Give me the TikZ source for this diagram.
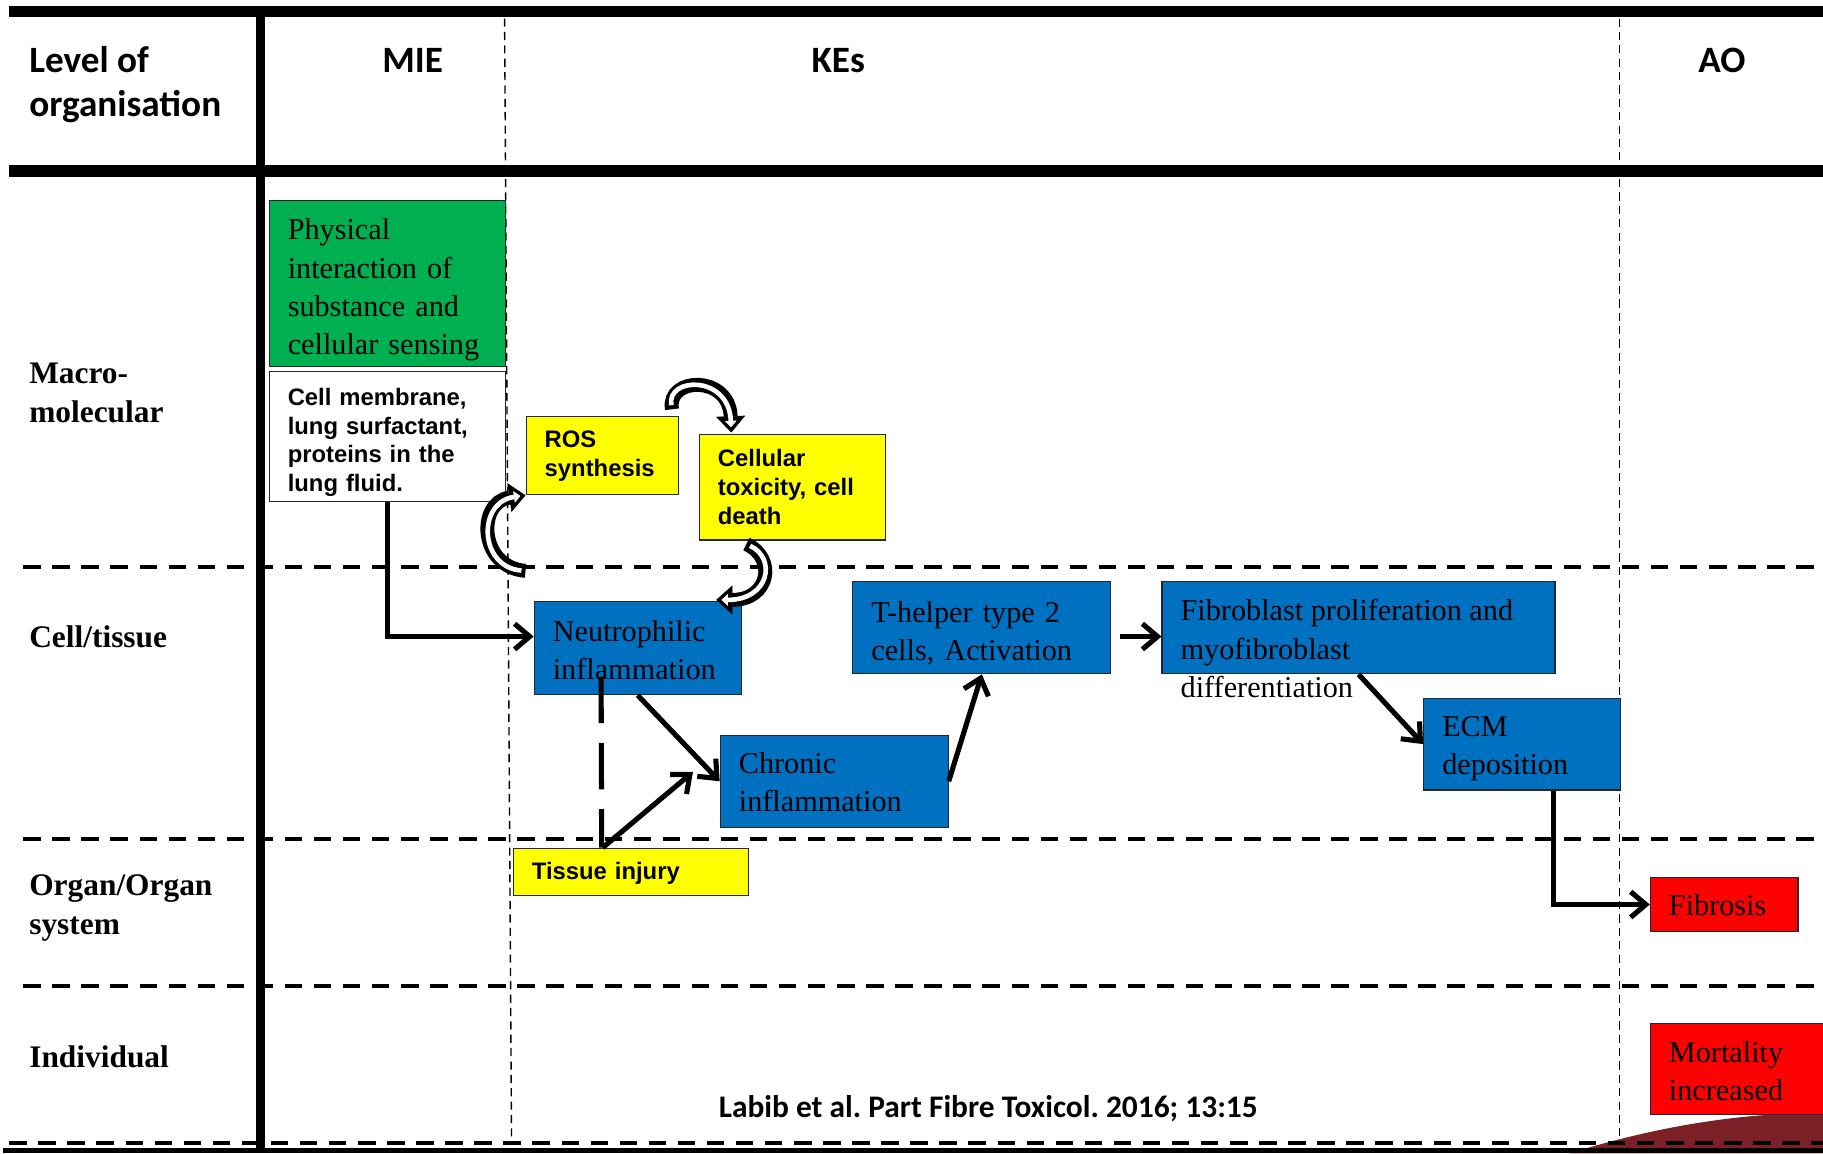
\documentclass[tikz,border=0pt]{standalone}
\usepackage{fontspec}
\setmainfont{Liberation Serif}
\newfontfamily\calib{Carlito}
\newfontfamily\arl{Liberation Sans}
\usetikzlibrary{arrows.meta,calc}
\definecolor{kgreen}{RGB}{0,176,80}
\definecolor{kblue}{RGB}{0,112,192}
\definecolor{kyellow}{RGB}{255,255,0}
\definecolor{kred}{RGB}{255,0,0}
\definecolor{dred}{RGB}{122,32,38}
\newcommand\kup[1]{\rule{0pt}{#1}}
\frenchspacing
\begin{document}
\begin{tikzpicture}[x=1pt,y=-1pt,
  box/.style={draw=black!85, line width=1pt, rectangle, inner xsep=16pt, inner ysep=0pt, align=left, anchor=north west},
  serifbox/.style={box, font=\frenchspacing\fontsize{26}{33}\selectfont},
  sansbox/.style={box, font=\arl\bfseries\fontsize{20.5}{24.8}\selectfont},
  headtxt/.style={font=\calib\bfseries\fontsize{32}{38}\selectfont, inner sep=0pt},
  rowlab/.style={font=\bfseries\fontsize{27}{33.5}\selectfont, align=left, inner sep=0pt, anchor=base west},
  gridline/.style={line width=3.5pt, dash pattern=on 15pt off 10pt},
  thind/.style={line width=1.2pt, dash pattern=on 7pt off 4.5pt},
  conn/.style={line width=4.4pt, -{Straight Barb[length=13pt,width=22pt]}},
  hollowout/.style={line width=12pt, -{Triangle[length=14pt,width=25pt,line width'=0.5pt]}},
  hollowin/.style={line width=4pt, white, shorten >=4.5pt, shorten <=3.5pt, -{Triangle[length=5.5pt,width=10pt,line width'=0.5pt]}}
]
\clip (0,0) rectangle (1568,992);
\fill[white] (0,0) rectangle (1568,992);

% dark red wedge bottom right
\fill[dred] (1350,992) .. controls (1415,972) and (1475,961) .. (1535,958) -- (1568,958) -- (1568,992) -- cycle;

% grid
\draw[line width=10pt] (8,10) -- (1568,10);
\draw[line width=10pt] (8,147) -- (1568,147);
\draw[line width=8pt] (224,5) -- (224,992);
\draw[gridline] (20,488) -- (1568,488);
\draw[gridline] (20,722) -- (1568,722);
\draw[gridline] (20,848) -- (1568,848);
\draw[gridline] (8,983) -- (1568,983);
\fill (3,987) rectangle (1568,992);
\draw[thind] (434,16) -- (440,985);
\draw[thind] (1393,16) -- (1393,985);

% headers
\node[headtxt, anchor=base west, align=left] (lvl) at (25,100) {Level of\\organisation};
\node[headtxt, anchor=base] (mie) at (355,62) {MIE};
\node[headtxt, anchor=base] (kes) at (721,62) {KEs};
\node[headtxt, anchor=base] (ao) at (1481,62) {AO};

% row labels
\node[rowlab] (macro) at (25,363.5) {Macro-\\molecular};
\node[rowlab] (celltis) at (25,557) {Cell/tissue};
\node[rowlab] (organ) at (25,804) {Organ/Organ\\system};
\node[rowlab] (indiv) at (25,918) {Individual};

% boxes
\node[serifbox, fill=kgreen, minimum width=203pt, minimum height=143pt, text width=171pt] (phys) at (231,172)
  {\kup{29pt}Physical\\interaction of\\substance and\\cellular sensing};
\node[sansbox, fill=white, minimum width=203pt, minimum height=112pt, text width=171pt] (cellmem) at (231,319)
  {\kup{25pt}Cell membrane,\\lung surfactant,\\proteins in the\\lung fluid.};
\node[sansbox, fill=kyellow, minimum width=131pt, minimum height=67pt, text width=99pt] (ros) at (452,358)
  {ROS\\synthesis};
\node[sansbox, fill=kyellow, minimum width=160pt, minimum height=91pt, text width=128pt] (cell) at (601,373)
  {Cellular\\toxicity, cell\\death};
\node[serifbox, fill=kblue, minimum width=178pt, minimum height=80pt, text width=146pt] (neutro) at (459,517)
  {\kup{22pt}Neutrophilic\\inflammation};
\node[serifbox, fill=kblue, minimum width=222pt, minimum height=79pt, text width=190pt] (thelper) at (733,500)
  {\kup{28pt}T-helper type 2\\cells, Activation};
\node[draw=black!85, line width=1pt, rectangle, inner xsep=16pt, inner ysep=0pt, anchor=north west,
  font=\fontsize{26}{33}\selectfont, fill=kblue, minimum width=338pt, minimum height=79pt] (fib) at (999,500)
  {\raisebox{0pt}[23pt][35pt]{\begin{tabular}[t]{@{}p{306pt}@{}}Fibroblast proliferation and\\myofibroblast\\differentiation\end{tabular}}};
\node[serifbox, fill=kblue, minimum width=196pt, minimum height=79pt, text width=164pt] (chronic) at (619,632)
  {\kup{20pt}Chronic\\inflammation};
\node[serifbox, fill=kblue, minimum width=169pt, minimum height=79pt, text width=137pt] (ecm) at (1224,600)
  {\kup{25pt}ECM\\deposition};
\node[sansbox, fill=kyellow, minimum width=202pt, minimum height=41pt, text width=170pt] (tissue) at (441,729)
  {\kup{18pt}Tissue injury};
\node[serifbox, fill=kred, minimum width=127pt, minimum height=47pt, text width=95pt] (fibrosis) at (1419,754)
  {\kup{19.5pt}Fibrosis};
\node[serifbox, fill=kred, minimum width=181pt, minimum height=78pt, text width=149pt] (mort) at (1419,880)
  {\kup{22pt}Mortality\\increased};

% connectors
\draw[conn] (cellmem.south) |- ([yshift=10pt]neutro.west);
\draw[conn] (neutro.south) -- (chronic.west);
\coordinate (tiEnd) at (596,664);
\draw[conn] ([xshift=-24pt]tissue.north) -- (tiEnd);
\coordinate (dashTop) at (517,582);
\draw[line width=4.4pt, dash pattern=on 40pt off 17pt] (dashTop) -- ([xshift=-25pt]tissue.north);
\draw[conn] (chronic.east) -- (thelper.south);
\draw[conn] ([xshift=7pt,yshift=-7.5pt]thelper.east) -- ([yshift=-7.5pt]fib.west);
\draw[conn] (fib.south) -- (ecm.west);
\draw[conn] ([xshift=27.5pt]ecm.south) |- (fibrosis.west);

% hollow curved arrows
\draw[hollowout] ($(ros.south west)+(0,65)$) .. controls (412,488) and (410,432) .. (ros.south west);
\draw[hollowin] ($(ros.south west)+(0,65)$) .. controls (412,488) and (410,432) .. (ros.south west);
\draw[hollowout] ($(ros.north east)+(-6,-6)$) .. controls (573,324) and (627,322) .. ($(cell.north west)+(28,-1)$);
\draw[hollowin] ($(ros.north east)+(-6,-6)$) .. controls (573,324) and (627,322) .. ($(cell.north west)+(28,-1)$);
\draw[hollowout] ($(cell.south west)+(41,3)$) .. controls (668,480) and (662,516) .. ($(neutro.north east)+(-22,-1)$);
\draw[hollowin] ($(cell.south west)+(41,3)$) .. controls (668,480) and (662,516) .. ($(neutro.north east)+(-22,-1)$);

% citation
\node[font=\calib\bfseries\fontsize{27}{32}\selectfont, anchor=base, inner sep=0pt] (cite) at (850,961)
  {Labib et al. Part Fibre Toxicol. 2016; 13:15};
\end{tikzpicture}
\end{document}
